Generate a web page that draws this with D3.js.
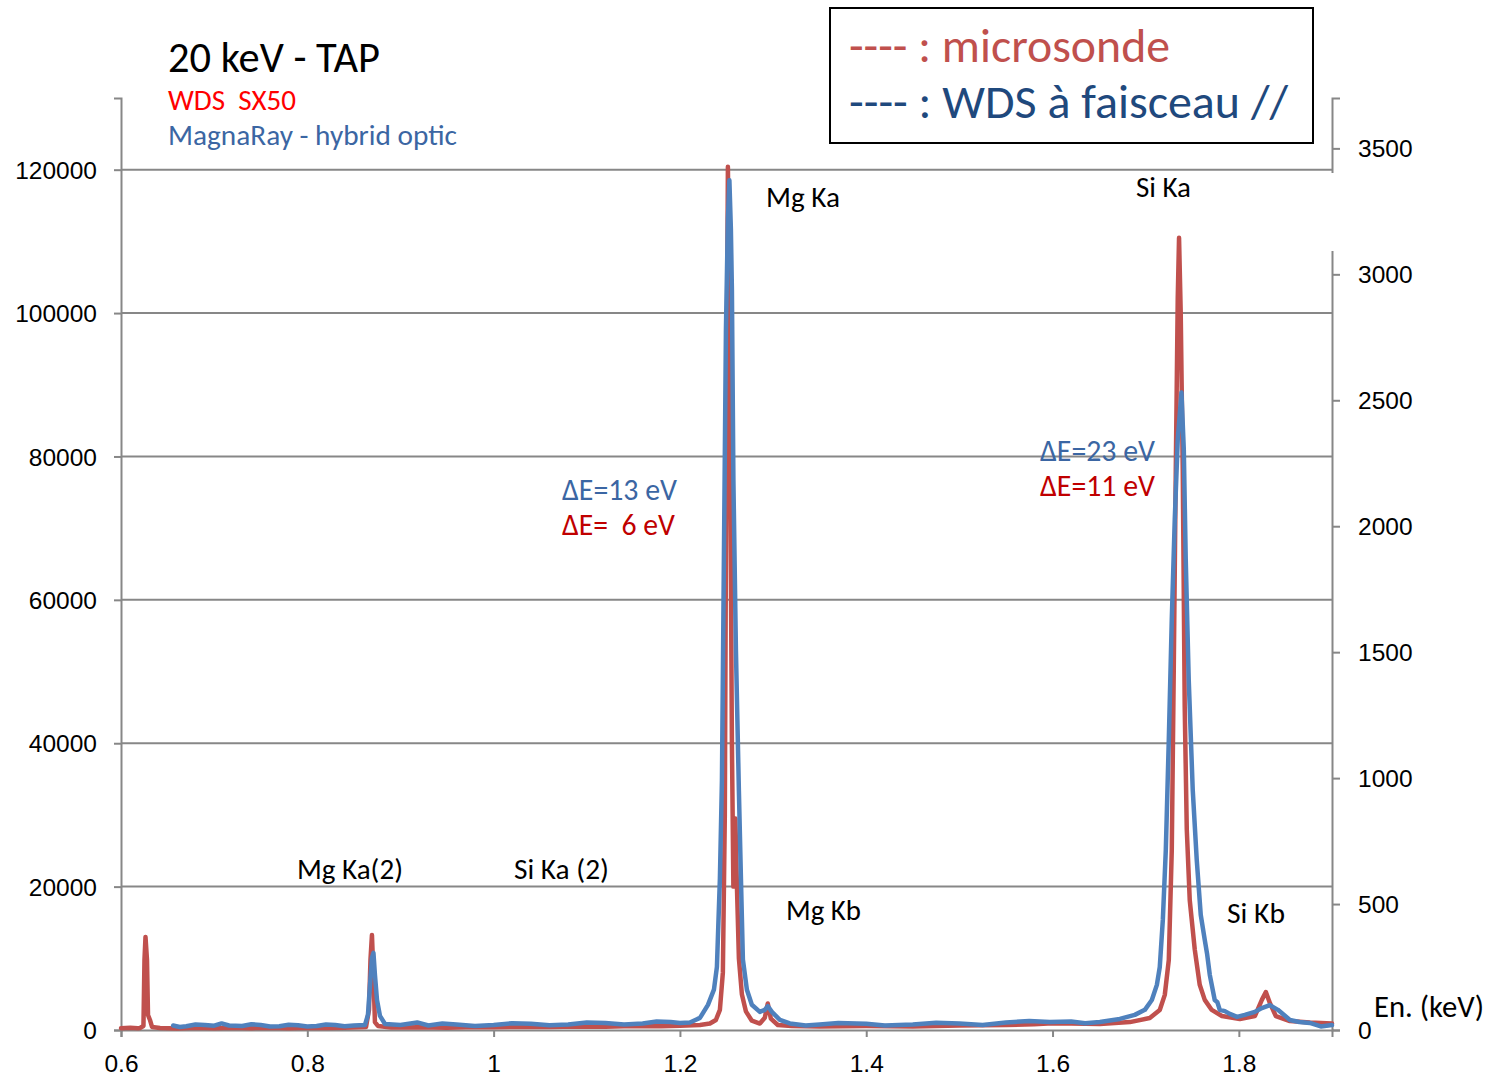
<!DOCTYPE html>
<html>
<head>
<meta charset="utf-8">
<script src="https://cdn.jsdelivr.net/npm/d3@7"></script>
<style>
  body { margin: 0; background: #fff; }
  svg { font-family: Carlito, Lato, "Open Sans", sans-serif; }
  text { white-space: pre; }
</style>
</head>
<body>
<svg id="chart" width="1490" height="1079"></svg>
<script>
// energies (keV) and counts
const redEnergy = [0.600, 0.610, 0.618, 0.6204, 0.6241, 0.6252, 0.6263, 0.6279, 0.6290, 0.6311, 0.6333, 0.6419,
  0.660, 0.680, 0.700, 0.720, 0.740, 0.760, 0.780, 0.800, 0.820, 0.840, 0.8630, 0.8662, 0.8678, 0.8694, 0.8710,
  0.8726, 0.8758, 0.890, 0.920, 0.950, 0.980, 1.000, 1.030, 1.060, 1.090, 1.120, 1.150, 1.180, 1.200,
  1.2215, 1.2322, 1.2386, 1.2429, 1.2461, 1.2482, 1.2498, 1.2515, 1.2531, 1.2542, 1.2558, 1.2574, 1.2595, 1.2611,
  1.2633, 1.2665, 1.2708, 1.2772, 1.2858, 1.2911, 1.2943, 1.2976, 1.3051, 1.320, 1.350, 1.400, 1.450, 1.500,
  1.550, 1.580, 1.600, 1.620, 1.6508, 1.6830, 1.7044, 1.7151, 1.7205, 1.7248, 1.7280, 1.7301, 1.7323, 1.7344,
  1.7358, 1.7376, 1.7398, 1.7419, 1.7441, 1.7473, 1.7527, 1.7580, 1.7634, 1.7709, 1.7818, 1.8011, 1.8172, 1.8247,
  1.8290, 1.8333, 1.8397, 1.8548, 1.8762, 1.900];
const redCounts = [250, 300, 260, 280, 560, 9770, 12980, 9770, 2090, 1400, 420, 280,
  220, 300, 250, 330, 260, 300, 240, 310, 280, 330, 420, 2800, 9770, 13250, 7670,
  1100, 560, 350, 400, 330, 420, 380, 450, 420, 500, 470, 560, 520, 600,
  700, 900, 1400, 2800, 8000, 30000, 80000, 120400, 100000, 75000, 40000, 20000, 29500, 20500,
  10000, 5000, 2600, 1300, 900, 1700, 3700, 1600, 700, 550, 500, 560, 500, 620,
  700, 800, 950, 900, 840, 1100, 1670, 2800, 4900, 9770, 25100, 50000, 78000, 102000,
  110500, 100000, 78000, 45000, 28000, 18100, 11200, 6300, 4200, 2800, 1950, 1530, 1950, 4200,
  5300, 3770, 1950, 1250, 1050, 900];

const blueEnergy = [0.656, 0.663, 0.670, 0.680, 0.690, 0.700, 0.708, 0.716, 0.730, 0.740, 0.750, 0.760, 0.770,
  0.780, 0.790, 0.800, 0.810, 0.820, 0.830, 0.840, 0.850,
  0.8619, 0.8651, 0.8673, 0.8694, 0.8710, 0.8726, 0.8748, 0.8780, 0.8834, 0.900, 0.918, 0.930, 0.945, 0.960,
  0.980, 1.000, 1.020, 1.040, 1.060, 1.080, 1.100, 1.120, 1.140, 1.160, 1.175, 1.190, 1.200,
  1.2107, 1.2215, 1.2301, 1.2365, 1.2397, 1.2429, 1.2451, 1.2472, 1.2494,
  1.2515, 1.2531, 1.2547, 1.2558, 1.2574, 1.2601, 1.2633, 1.2655, 1.2676, 1.2719, 1.2772, 1.2858, 1.2911, 1.2943,
  1.2987, 1.3073, 1.3180, 1.335, 1.350, 1.370, 1.400, 1.420, 1.450, 1.475, 1.500, 1.525, 1.550, 1.575, 1.5971,
  1.620, 1.635, 1.6508, 1.6722, 1.6883, 1.6991,
  1.7066, 1.7120, 1.7151, 1.7184, 1.7216, 1.7248, 1.7280, 1.7312, 1.7344, 1.7384, 1.7409, 1.7430, 1.7462, 1.7505,
  1.7548, 1.7591, 1.7634, 1.7660, 1.7688, 1.7741, 1.7770, 1.7795, 1.7850, 1.7903, 1.7980, 1.8064, 1.8172, 1.8247,
  1.8333, 1.8419, 1.8548, 1.8650, 1.8762, 1.8880, 1.900];
const blueCounts = [18, 12, 15, 22, 20, 17, 26, 18, 16, 23, 20, 14, 15,
  21, 19, 14, 16, 22, 20, 15, 18,
  20, 60, 179, 286, 306, 219, 119, 56, 24, 20, 30, 18, 26, 22,
  16, 20, 27, 25, 19, 22, 30, 28, 22, 26, 34, 32, 28,
  30, 48, 100, 160, 250, 600, 990, 1870, 2780,
  3220, 3373, 3180, 2940, 2185, 1510, 950, 600, 280, 160, 100, 72, 80, 95,
  72, 40, 26, 18, 22, 28, 25, 18, 22, 29, 26, 20, 30, 36, 32,
  34, 27, 32, 44, 60, 80,
  119, 179, 250, 437, 715, 1152, 1629, 2026, 2344, 2531, 2304, 1867, 1390, 953,
  675, 457, 358, 300, 219, 119, 110, 80, 75, 64, 52, 60, 72, 87,
  99, 80, 40, 32, 28, 14, 20];

const xTicks = [0.6, 0.8, 1, 1.2, 1.4, 1.6, 1.8];
const leftTicks = [0, 20000, 40000, 60000, 80000, 100000, 120000];
const rightTicks = [0, 500, 1000, 1500, 2000, 2500, 3000, 3500];

const red = "#C0504D", blue = "#4F81BD", grid = "#878787";

const svg = d3.select("#chart");
const x = d3.scaleLinear().domain([0.6, 1.9]).range([121, 1332]);
const yL = d3.scaleLinear().domain([0, 130000]).range([1030, 98]);
const yR = d3.scaleLinear().domain([0, 3700]).range([1030, 98]);

// gridlines
svg.append("g").selectAll("line").data(leftTicks.slice(1)).join("line")
  .attr("x1", 121).attr("x2", 1332)
  .attr("y1", d => yL(d)).attr("y2", d => yL(d))
  .attr("stroke", grid).attr("stroke-width", 2);

// axes
const fmt = d3.format("d");
const axL = svg.append("g").attr("transform", "translate(121,0)")
  .call(d3.axisLeft(yL).tickValues(leftTicks).tickFormat(fmt).tickSizeOuter(0).tickSize(7).tickPadding(17));
const axR = svg.append("g").attr("transform", "translate(1332,0)")
  .call(d3.axisRight(yR).tickValues(rightTicks).tickFormat(fmt).tickSizeOuter(0).tickSize(8).tickPadding(18));
const axX = svg.append("g").attr("transform", "translate(0,1030)")
  .call(d3.axisBottom(x).tickValues(xTicks).tickFormat(d => String(d)).tickSizeOuter(0).tickSize(7).tickPadding(12));

[axL, axR, axX].forEach(a => {
  a.selectAll("path, line").attr("stroke", grid).attr("stroke-width", 2);
  a.selectAll("text").attr("fill", "#000").style("font-size", "24.5px");
});
axL.selectAll(".tick text").attr("dy", "0.35em");
axR.selectAll(".tick text").attr("dy", "0.35em");
axX.selectAll(".tick text").attr("dy", "0").attr("y", 42);

// gap in the secondary axis line
svg.append("rect").attr("x", 1328).attr("y", 173).attr("width", 8).attr("height", 78).attr("fill", "#fff");

// series
const redPts = redEnergy.map((e, i) => [e, redCounts[i]]);
const bluePts = blueEnergy.map((e, i) => [e, blueCounts[i]]);

svg.append("path").datum(redPts)
  .attr("fill", "none").attr("stroke", red).attr("stroke-width", 4.5)
  .attr("stroke-linejoin", "round").attr("stroke-linecap", "round")
  .attr("d", d3.line().x(d => x(d[0])).y(d => yL(d[1])));

svg.append("path").datum(bluePts)
  .attr("fill", "none").attr("stroke", blue).attr("stroke-width", 4.5)
  .attr("stroke-linejoin", "round").attr("stroke-linecap", "round")
  .attr("d", d3.line().x(d => x(d[0])).y(d => yR(d[1])));

// text placed by left x, baseline y and target width
function place(txt, tx, ty, w, color) {
  const t = svg.append("text").attr("x", tx).attr("y", ty).attr("fill", color)
    .style("font-size", "30px").text(txt);
  const len = t.node().getComputedTextLength();
  t.style("font-size", (30 * w / len).toFixed(2) + "px");
  return t;
}

place("20 keV - TAP", 168, 72, 212, "#000");
place("WDS  SX50", 168, 110, 128, "#FF0000");
place("MagnaRay - hybrid optic", 168, 145, 289, "#3B66A3");

// legend box
svg.append("rect").attr("x", 830).attr("y", 8).attr("width", 483).attr("height", 135)
  .attr("fill", "#fff").attr("stroke", "#000").attr("stroke-width", 2);
place("---- : microsonde", 849, 62, 321, red);
place("---- : WDS à faisceau //", 849, 118, 439, "#1F497D");

// peak labels
place("Mg Ka", 766, 207, 74, "#000");
place("Si Ka", 1136, 197, 55, "#000");
place("Mg Ka(2)", 297, 879, 106, "#000");
place("Si Ka (2)", 514, 879, 95, "#000");
place("Mg Kb", 786, 920, 75, "#000");
place("Si Kb", 1227, 923, 58, "#000");
place("ΔE=13 eV", 562, 500, 115, "#3B66A3");
place("ΔE=  6 eV", 562, 535, 113, "#C00000");
place("ΔE=23 eV", 1040, 461, 115, "#3B66A3");
place("ΔE=11 eV", 1040, 496, 115, "#C00000");
place("En. (keV)", 1374, 1017, 110, "#000");
</script>
</body>
</html>
